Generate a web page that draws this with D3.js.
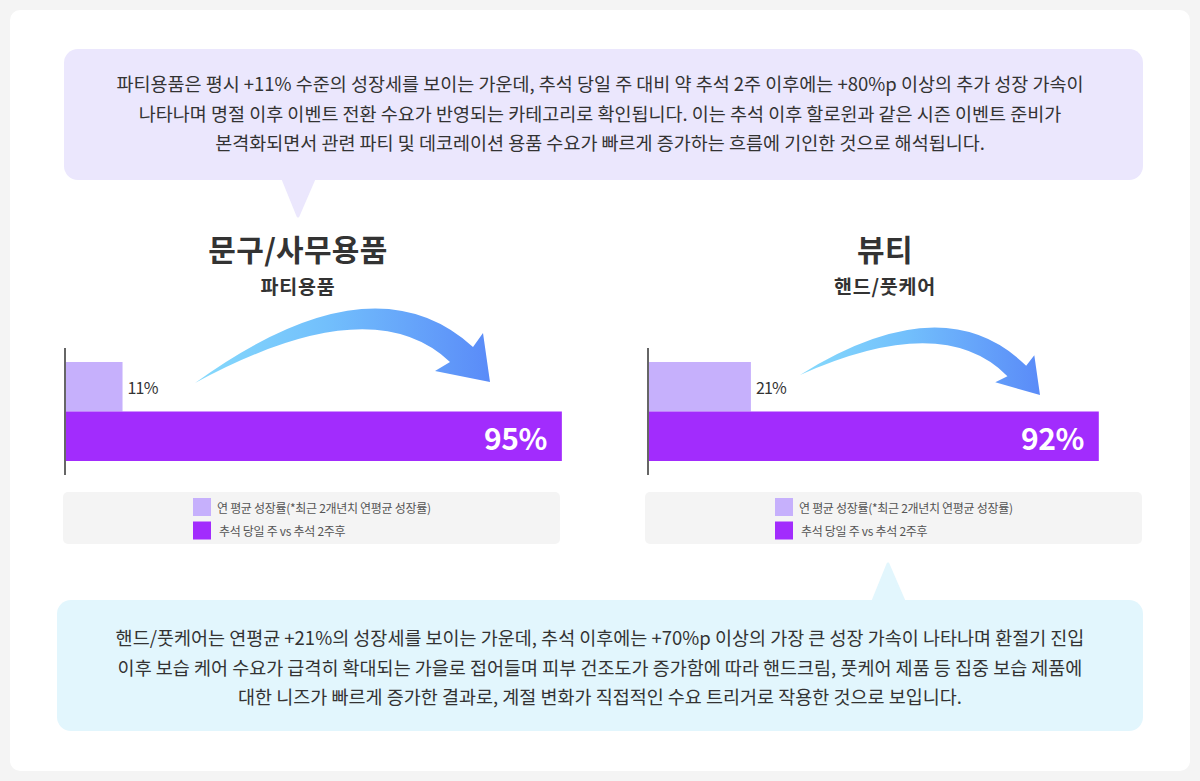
<meta charset="UTF-8">
<script src="https://d3js.org/d3.v7.min.js"></script>
<style>
  body { margin: 0; background: #f4f4f4; }
  text { font-family: "Noto Sans CJK KR", "Noto Sans", sans-serif; }
</style>
<div id="my_dataviz"></div>
<script>

// data
var categories    = ["문구/사무용품", "뷰티"];
var subCategories = ["파티용품", "핸드/풋케어"];
var seriesNames   = ["연 평균 성장률(*최근 2개년치 연평균 성장률)", "추석 당일 주 vs 추석 2주후"];
var avgGrowth     = [11, 21];   // %
var chuseokGrowth = [95, 92];   // %

var topNote = [
  "파티용품은 평시 +11% 수준의 성장세를 보이는 가운데, 추석 당일 주 대비 약 추석 2주 이후에는 +80%p 이상의 추가 성장 가속이",
  "나타나며 명절 이후 이벤트 전환 수요가 반영되는 카테고리로 확인됩니다. 이는 추석 이후 할로윈과 같은 시즌 이벤트 준비가",
  "본격화되면서 관련 파티 및 데코레이션 용품 수요가 빠르게 증가하는 흐름에 기인한 것으로 해석됩니다."
];
var bottomNote = [
  "핸드/풋케어는 연평균 +21%의 성장세를 보이는 가운데, 추석 이후에는 +70%p 이상의 가장 큰 성장 가속이 나타나며 환절기 진입",
  "이후 보습 케어 수요가 급격히 확대되는 가을로 접어들며 피부 건조도가 증가함에 따라 핸드크림, 풋케어 제품 등 집중 보습 제품에",
  "대한 니즈가 빠르게 증가한 결과로, 계절 변화가 직접적인 수요 트리거로 작용한 것으로 보입니다."
];

var colors = ["#c6b0fc", "#a22cfd"];

var width = 1200, height = 781;

var svg = d3.select("#my_dataviz")
  .append("svg")
    .attr("width", width)
    .attr("height", height);

// gradient for the arrows
var grad = svg.append("defs").append("linearGradient")
    .attr("id", "arrowGrad")
    .attr("x1", "0%").attr("x2", "100%").attr("y1", "0%").attr("y2", "0%");
grad.append("stop").attr("offset", "0%").attr("stop-color", "#86dafc");
grad.append("stop").attr("offset", "45%").attr("stop-color", "#72bffc");
grad.append("stop").attr("offset", "100%").attr("stop-color", "#5a8bf8");

// card
svg.append("rect")
    .attr("x", 10).attr("y", 10)
    .attr("width", 1180).attr("height", 761)
    .attr("rx", 10)
    .attr("fill", "#fff");

// speech bubbles
function bubble(x, y, w, h, fill, tail, lines, lineY) {
  var g = svg.append("g");
  g.append("rect")
      .attr("x", x).attr("y", y)
      .attr("width", w).attr("height", h)
      .attr("rx", 14)
      .attr("fill", fill);
  g.append("path")
      .attr("d", d3.line()(tail) + "Z")
      .attr("fill", fill)
      .attr("stroke", fill)
      .attr("stroke-width", 3)
      .attr("stroke-linejoin", "round");
  g.selectAll("text")
    .data(lines)
    .enter()
    .append("text")
      .attr("x", 600)
      .attr("y", function(d, i) { return lineY + i * 29.5; })
      .attr("text-anchor", "middle")
      .attr("dominant-baseline", "central")
      .style("font-size", "18.5px")
      .style("font-weight", "400")
      .style("letter-spacing", "0px")
      .attr("fill", "#333")
      .text(function(d) { return d; });
}

bubble(64, 49, 1079, 131, "#ebe7fd", [[283, 179], [298, 216], [314, 179]], topNote, 83);
bubble(57, 600, 1086, 131, "#e2f6fd", [[873, 601], [888, 564], [904, 601]], bottomNote, 637);

// one panel per category
var panelLayout = [
  {left: 65,  plotW: 523, titleX: 298, legendX: 63,  arrow: {tx: 195, ty: 383, tipX: 490, tipY: 382, sy: 1}},
  {left: 648, plotW: 490, titleX: 885, legendX: 645, arrow: {tx: 800, ty: 375, tipX: 1040, tipY: 395, sy: 0.8}}
];

var yBand = d3.scaleBand()
    .domain(seriesNames)
    .range([362, 461])
    .padding(0);

// arrow template (relative to tail point)
var tpl = {
  topCtrl: [177, -128], shoulder: [278, -36], headTop: [288, -50], tip: [295, -1],
  headLeft: [240, -12], inner: [255, -21], botCtrl: [176, -95.5]
};

function arrowPath(a) {
  var span = 295;
  var sx = (a.tipX - a.tx) / span;
  var skew = (a.tipY - a.ty) - tpl.tip[1] * a.sy;
  function p(q) {
    return (a.tx + q[0] * sx) + "," + (a.ty + q[1] * a.sy + skew * q[0] / span);
  }
  return "M" + p([0, 0]) +
    "Q" + p(tpl.topCtrl) + " " + p(tpl.shoulder) +
    "L" + p(tpl.headTop) +
    "L" + p(tpl.tip) +
    "L" + p(tpl.headLeft) +
    "L" + p(tpl.inner) +
    "Q" + p(tpl.botCtrl) + " " + p([0, 0]) + "Z";
}

categories.forEach(function(cat, i) {
  var L = panelLayout[i];
  var values = [avgGrowth[i], chuseokGrowth[i]];

  var x = d3.scaleLinear()
      .domain([0, 100])
      .range([L.left, L.left + L.plotW]);

  var g = svg.append("g");

  // titles
  g.append("text")
      .attr("x", L.titleX).attr("y", 248)
      .attr("text-anchor", "middle")
      .attr("dominant-baseline", "central")
      .style("font-size", "30px")
      .style("font-weight", "700")
      .style("letter-spacing", "0.3px")
      .attr("fill", "#333")
      .text(cat);
  g.append("text")
      .attr("x", L.titleX).attr("y", 285)
      .attr("text-anchor", "middle")
      .attr("dominant-baseline", "central")
      .style("font-size", "19.5px")
      .style("font-weight", "700")
      .style("letter-spacing", "0.8px")
      .attr("fill", "#333")
      .text(subCategories[i]);

  // bars
  g.selectAll("rect.bar")
    .data(values)
    .enter()
    .append("rect")
      .attr("class", "bar")
      .attr("x", x(0))
      .attr("y", function(d, j) { return yBand(seriesNames[j]); })
      .attr("width", function(d) { return x(d) - x(0); })
      .attr("height", yBand.bandwidth())
      .attr("fill", function(d, j) { return colors[j]; });

  // axis line
  g.append("line")
      .attr("x1", x(0)).attr("x2", x(0))
      .attr("y1", yBand.range()[0] - 14).attr("y2", yBand.range()[1] + 14)
      .attr("stroke", "#666")
      .attr("stroke-width", 2);

  // value labels
  g.append("text")
      .attr("x", x(values[0]) + 5)
      .attr("y", yBand(seriesNames[0]) + yBand.bandwidth() / 2 + 0.5)
      .attr("dominant-baseline", "central")
      .style("font-size", "16px")
      .style("letter-spacing", "-0.8px")
      .attr("fill", "#333")
      .text(values[0] + "%");
  g.append("text")
      .attr("x", x(values[1]) - 15)
      .attr("y", yBand(seriesNames[1]) + yBand.bandwidth() / 2 + 0.5)
      .attr("text-anchor", "end")
      .attr("dominant-baseline", "central")
      .style("font-size", "30px")
      .style("font-weight", "700")
      .style("letter-spacing", "-0.5px")
      .attr("fill", "#fff")
      .text(values[1] + "%");

  // arrow
  g.append("path")
      .attr("d", arrowPath(L.arrow))
      .attr("fill", "url(#arrowGrad)");

  // legend
  var lg = g.append("g");
  lg.append("rect")
      .attr("x", L.legendX).attr("y", 492)
      .attr("width", 497).attr("height", 52)
      .attr("rx", 5)
      .attr("fill", "#f4f4f4");
  var item = lg.selectAll("g.item")
    .data(seriesNames)
    .enter()
    .append("g")
      .attr("class", "item")
      .attr("transform", function(d, j) { return "translate(" + (L.legendX + 130) + "," + (498 + j * 23.5) + ")"; });
  item.append("rect")
      .attr("width", 18).attr("height", 18)
      .attr("fill", function(d, j) { return colors[j]; });
  item.append("text")
      .attr("x", function(d, j) { return j === 0 ? 24 : 26; })
      .attr("y", 9)
      .attr("dominant-baseline", "central")
      .style("font-size", "12px")
      .style("letter-spacing", "-0.3px")
      .attr("fill", "#555")
      .text(function(d) { return d; });
});

</script>
